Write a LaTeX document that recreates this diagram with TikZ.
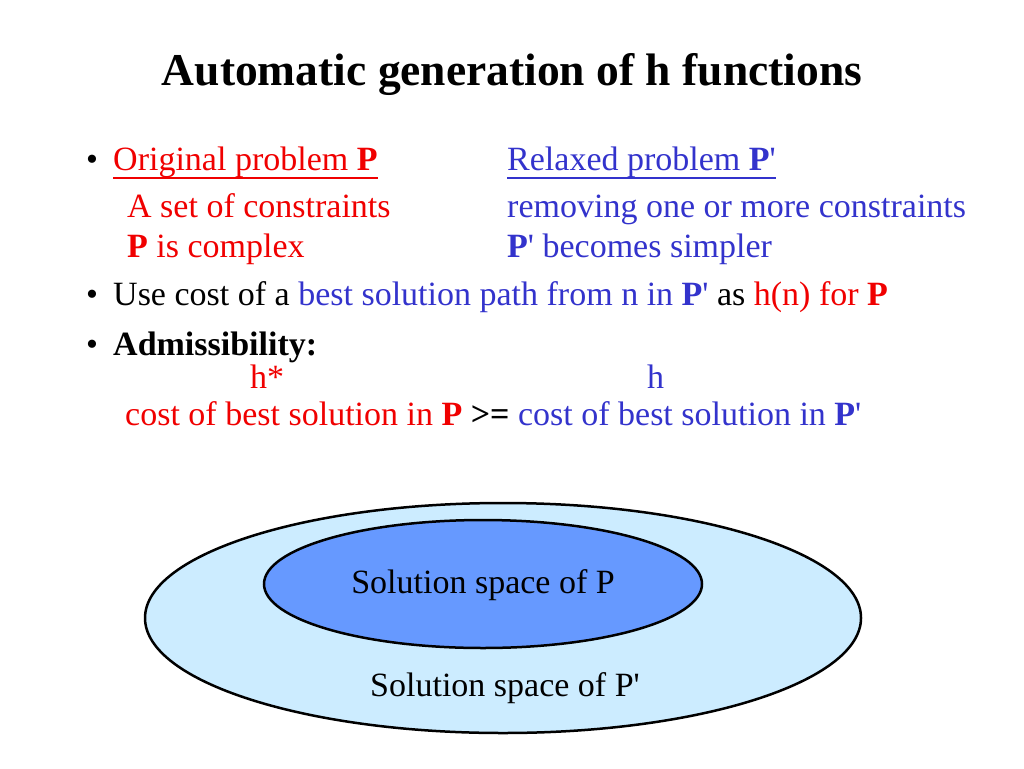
\documentclass[tikz,border=0pt]{standalone}
\usepackage{fontspec}
\setmainfont{Liberation Serif}

\definecolor{redP}{RGB}{240,0,0}
\definecolor{blueP}{RGB}{51,51,204}
\definecolor{outerfill}{RGB}{204,236,255}
\definecolor{innerfill}{RGB}{102,153,255}

\newcommand{\Pb}{\textbf{P}}
\newcommand{\pq}{\textquotesingle}

\tikzset{
  line/.style={anchor=base west, inner sep=0pt, font=\fontsize{34}{40}\selectfont},
  bull/.style={anchor=base west, inner sep=0pt, font=\fontsize{34}{40}\selectfont},
  space/.style={anchor=base, inner sep=0pt, font=\fontsize{34}{40}\selectfont},
  set/.style={line width=2.5pt, draw=black},
  uline/.style={line width=1.8pt},
}

\begin{document}
\begin{tikzpicture}[x=1pt,y=-1pt]
  \useasboundingbox (0,0) rectangle (1024,768);

  % titlul
  \node[anchor=base, inner sep=0pt, font=\fontsize{45.5}{54}\selectfont\bfseries] (title) at (512,85)
    {Automatic generation of h functions};

  % problema originala si cea relaxata
  \node[bull] (b1) at (86,170) {\textbullet};
  \node[line, text=redP] (orig) at (113,170) {Original problem \Pb};
  \node[line, text=blueP] (relax) at (507,170) {Relaxed problem \Pb\pq};
  \draw[uline, redP] ([yshift=-8pt]orig.base west) -- ([yshift=-8pt]orig.base east);
  \draw[uline, blueP] ([yshift=-8pt]relax.base west) -- ([yshift=-8pt]relax.base east);
  \node[line, text=redP] (constr) at (127,217) {A set of constraints};
  \node[line, text=blueP] (remove) at (507,217) {removing one or more constraints};
  \node[line, text=redP] (complex) at (127,257) {\Pb{} is complex};
  \node[line, text=blueP] (simple) at (507,257) {\Pb\pq{} becomes simpler};

  % costul ca euristica
  \node[bull] (b2) at (86,305) {\textbullet};
  \node[line] (use) at (113,305) {Use cost of a \textcolor{blueP}{best solution path from n in \Pb\pq}
    as \textcolor{redP}{h(n) for \Pb}};

  % admisibilitatea
  \node[bull] (b3) at (86,355) {\textbullet};
  \node[line] (adm) at (113,355) {\textbf{Admissibility:}};
  \node[line, text=redP] (hstar) at (250,388) {h*};
  \node[line, text=blueP] (h) at (647,388) {h};
  \node[line] (ineq) at (125,425) {\textcolor{redP}{cost of best solution in \Pb}
    \textbf{>=} \textcolor{blueP}{cost of best solution in \Pb\pq}};

  % spatiile de solutii
  \draw[set, fill=outerfill] (503,618) ellipse [x radius=358, y radius=115];
  \draw[set, fill=innerfill] (483,584) ellipse [x radius=219, y radius=64];
  \node[space] (solP) at (483,593) {Solution space of P};
  \node[space] (solPq) at (505,696) {Solution space of P\pq};
\end{tikzpicture}
\end{document}
